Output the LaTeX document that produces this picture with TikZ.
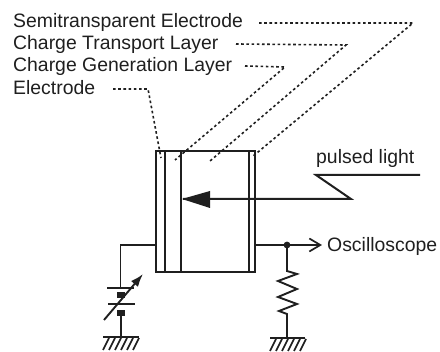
\documentclass[tikz,border=0pt]{standalone}
\usepackage{fontspec}
\setmainfont{Liberation Sans}
\usetikzlibrary{arrows.meta,patterns}
\definecolor{ink}{gray}{0.12}
\tikzset{
 lab/.style={anchor=west,inner sep=0pt,text=ink,font=\fontsize{19.4}{21}\selectfont},
 leader/.style={draw=ink,line width=1.6pt,dash pattern=on 2.6pt off 2.6pt},
 wire/.style={draw=ink,line width=1.9pt},
 thick wire/.style={draw=ink,line width=2.4pt},
 plate/.style={draw=ink,line width=2pt},
 hatchline/.style={draw=ink,line width=1.7pt},
}
\begin{document}
\begin{tikzpicture}[x=1pt,y=-1pt]
\useasboundingbox (0,0) rectangle (440,352);
\fill[white] (0,0) rectangle (440,352);
% labels
\node[lab] (se) at (13,22) {Semitransparent Electrode};
\node[lab] (ct) at (13,44) {Charge Transport Layer};
\node[lab] (cg) at (13,66) {Charge Generation Layer};
\node[lab] (el) at (13,88) {Electrode};
\node[lab] (pl) at (316,158) {pulsed light};
\node[lab] (os) at (327,246) {Oscilloscope};
% leader bends and ends
\coordinate (seA) at (259,23); \coordinate (seB) at (413,23); \coordinate (seC) at (252,157);
\coordinate (ctA) at (236,44); \coordinate (ctB) at (346,45); \coordinate (ctC) at (210,161);
\coordinate (cgA) at (245,66); \coordinate (cgB) at (285,67); \coordinate (cgC) at (175,160);
\coordinate (elA) at (113,89); \coordinate (elB) at (148,89); \coordinate (elC) at (161,158);
\draw[leader] (seA) -- (seB) -- (seC);
\draw[leader] (ctA) -- (ctB) -- (ctC);
\draw[leader] (cgA) -- (cgB) -- (cgC);
\draw[leader] (elA) -- (elB) -- (elC);
% sample
\draw[thick wire] (156,151) rectangle (255,272);
\draw[thick wire] (165,151) -- (165,272);
\draw[wire] (181,151) -- (181,272);
\draw[thick wire] (249,151) -- (249,272);
% light
\coordinate (l1) at (420,175); \coordinate (l2) at (316,175); \coordinate (l3) at (351,199); \coordinate (l4) at (183,199);
\draw[wire,line width=2pt,line join=miter] (l1) -- (l2) -- (l3) -- (l4);
\fill[ink] (182,199) -- (210,191) -- (210,208) -- cycle;
% left circuit
\coordinate (a1) at (156,245); \coordinate (a2) at (120.5,245); \coordinate (a3) at (120.5,288);
\draw[wire] (a1) -- (a2) -- (a3);
\draw[plate] (107,288.5) -- (134,288.5);
\draw[plate] (108,304) -- (135,304);
\fill[ink] (117,292) rectangle (125,298);
\fill[ink] (117,310) rectangle (125,316);
\coordinate (g1) at (121,337);
\draw[wire] (121,316) -- (g1);
\draw[wire,-{Latex[length=13pt,width=9pt]}] (104,320) -- (143,274);
\draw[wire] (103,337) -- (139,337);
\foreach \x in {106,112,...,136}{\draw[hatchline] (\x+3,338) -- (\x-3,350);}
% right circuit
\coordinate (r1) at (255,245); \coordinate (r2) at (322,245); \coordinate (rd) at (287,245);
\draw[wire,-{Straight Barb[length=11pt,width=13pt,line width=1.7pt]}] (r1) -- (r2);
\fill[ink] (rd) circle (3.4);
\draw[wire,line join=miter] (rd) -- (287,271) -- (297,274) -- (278,281) -- (297,289) -- (278,297) -- (297,304) -- (279,311) -- (287,314) -- (287,338);
\draw[wire] (270,338) -- (305,338);
\foreach \x in {273,279,...,303}{\draw[hatchline] (\x+3,339) -- (\x-3,351);}
\end{tikzpicture}
\end{document}
